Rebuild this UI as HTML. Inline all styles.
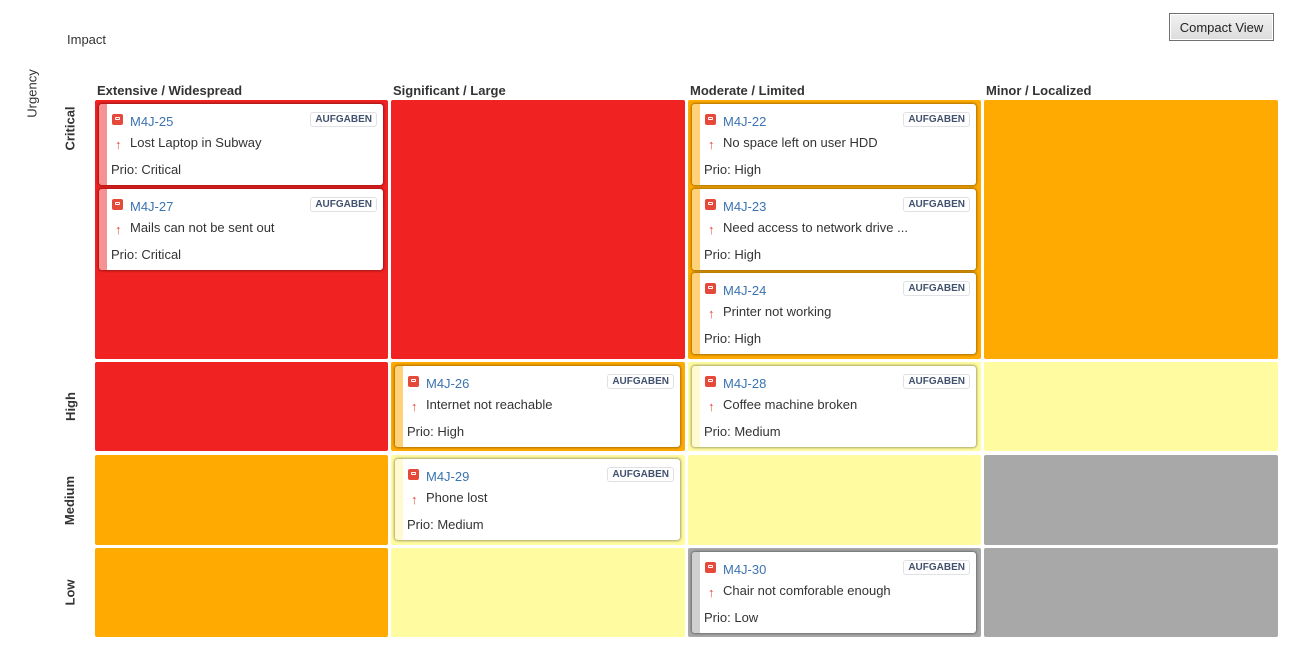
<!DOCTYPE html>
<html><head><meta charset="utf-8">
<style>
body{margin:0;width:1297px;height:647px;background:#fff;font-family:"Liberation Sans",Arial,sans-serif;position:relative;overflow:hidden}
.abs{position:absolute}
.cell{position:absolute;border-radius:2px}
.colh{position:absolute;top:83px;font-size:13px;font-weight:bold;color:#333}
.rowh{position:absolute;left:55px;width:30px;font-size:13px;font-weight:bold;color:#333;display:flex;align-items:center;justify-content:center}
.rowh span{transform:rotate(-90deg);white-space:nowrap}
.card{position:absolute;background:#fff;border-radius:3px;box-shadow:0 0 2px 1px rgba(0,0,0,0.35);overflow:hidden}
.stripe{position:absolute;left:0;top:0;bottom:0;width:8px}
.ico{position:absolute;left:13px;top:10px;width:11px;height:11px;background:#e5493a;border-radius:2px}
.ico:after{content:"";position:absolute;left:3px;top:3px;width:5px;height:3px;border:1px solid #fff;border-radius:1px;box-sizing:border-box}
.key{position:absolute;left:31px;top:10px;font-size:13px;color:#3b73af}
.badge{position:absolute;right:6px;top:8px;border:1px solid #dfe1e5;border-radius:3px;font-size:10px;font-weight:bold;color:#42526e;padding:1px 4px;line-height:11px}
.arrow{position:absolute;left:16px;top:33px;font-size:13px;color:#e5493a;font-weight:bold}
.sum{position:absolute;left:31px;top:31px;font-size:13px;color:#333;white-space:nowrap}
.prio{position:absolute;left:12px;top:58px;font-size:13px;color:#333}
</style></head><body>
<div class="abs" style="left:67px;top:32px;font-size:13px;color:#333">Impact</div>
<div class="abs" style="left:2px;top:86px;font-size:13px;color:#333;transform:rotate(-90deg);width:60px;text-align:center">Urgency</div>
<div class="abs" style="left:1169px;top:13px;width:105px;height:28px;border:1px solid #707070;box-shadow:inset 0 0 0 1px #fff;background:linear-gradient(#f2f2f2,#dcdcdc);font-size:13px;color:#222;display:flex;align-items:center;justify-content:center;box-sizing:border-box">Compact View</div>
<div id="grid"></div>
<script>
const columns=["Extensive / Widespread","Significant / Large","Moderate / Limited","Minor / Localized"];
const rows=["Critical","High","Medium","Low"];
const colX=[95,391,688,984], colW=[293,294,293,294];
const rowY=[100,362,455,548], rowH=[259,89,90,89];
const cellColors=[["r","r","o","o"],["r","o","y","y"],["o","y","y","g"],["o","y","g","g"]];
const palette={r:"#f02222",o:"#ffaa00",y:"#fffba0",g:"#a8a8a8"};
const stripePal={r:"#f79292",o:"#ffd27a",y:"#fffad0",g:"#d0d0d0"};
const cardKeys=["M4J-25","M4J-27","M4J-22","M4J-23","M4J-24","M4J-26","M4J-28","M4J-29","M4J-30"];
const cardSums=["Lost Laptop in Subway","Mails can not be sent out","No space left on user HDD","Need access to network drive ...","Printer not working","Internet not reachable","Coffee machine broken","Phone lost","Chair not comforable enough"];
const cardPrio=["Critical","Critical","High","High","High","High","Medium","Medium","Low"];
const cardRow=[0,0,0,0,0,1,1,2,3];
const cardCol=[0,0,2,2,2,1,2,1,2];
const g=document.getElementById('grid');
columns.forEach((c,i)=>{const d=document.createElement('div');d.className='colh';d.style.left=(colX[i]+2)+'px';d.textContent=c;


g.appendChild(d);});
rows.forEach((r,i)=>{const d=document.createElement('div');d.className='rowh';d.style.top=rowY[i]+'px';d.style.height=(i==0?56:rowH[i])+'px';d.innerHTML='<span>'+r+'</span>';


g.appendChild(d);});
for(let r=0;r<4;r++)for(let c=0;c<4;c++){const d=document.createElement('div');d.className='cell';
d.style.cssText+=`left:${colX[c]}px;top:${rowY[r]}px;width:${colW[c]}px;height:${rowH[r]}px;background:${palette[cellColors[r][c]]}`;


g.appendChild(d);}
const cnt={};
cardKeys.forEach((k,i)=>{const r=cardRow[i],c=cardCol[i];const id=r+'-'+c;const n=cnt[id]||0;cnt[id]=n+1;
const col=cellColors[r][c];
const d=document.createElement('div');d.className='card';
d.style.cssText+=`left:${colX[c]+4}px;top:${rowY[r]+4+n*84.5}px;width:${colW[c]-9}px;height:81px`;
d.innerHTML=`<div class="stripe" style="background:${stripePal[col]}"></div><div class="ico"></div><div class="key">${k}</div><div class="badge">AUFGABEN</div><div class="arrow">↑</div><div class="sum">${cardSums[i]}</div><div class="prio">Prio: ${cardPrio[i]}</div>`;


g.appendChild(d);});
</script>
</body></html>
